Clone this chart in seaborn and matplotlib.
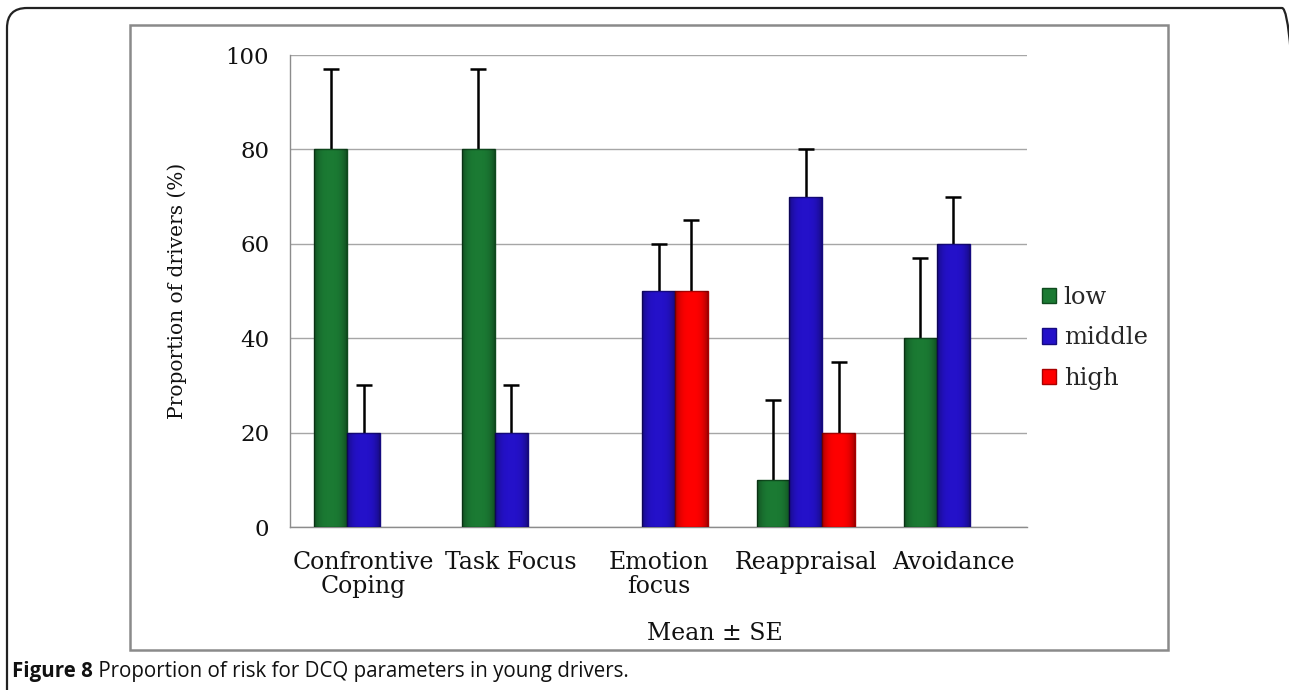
import matplotlib
matplotlib.use("Agg")
import matplotlib.pyplot as plt
import seaborn as sns
import pandas as pd
import numpy as np
from matplotlib.patches import FancyBboxPatch, Rectangle, Patch
from matplotlib.transforms import IdentityTransform

# ---------------- data ----------------
categories = ["Confrontive\nCoping", "Task Focus", "Emotion\nfocus", "Reappraisal", "Avoidance"]
levels = ["low", "middle", "high"]
low = [80, 80, None, 10, 40]
middle = [20, 20, 50, 70, 60]
high = [None, None, 50, 20, None]
low_se = [17, 17, None, 17, 17]
middle_se = [10, 10, 10, 10, 10]
high_se = [None, None, 15, 15, None]
yticks = [0, 20, 40, 60, 80, 100]
ylabel = "Proportion of drivers (%)"
xlabel = "Mean \u00b1 SE"
caption_bold = "Figure 8"
caption_rest = " Proportion of risk for DCQ parameters in young drivers."

colors = {"low": "#1b7a33", "middle": "#2411c9", "high": "#fe0000"}
edges = {"low": "#0f4a1e", "middle": "#150a80", "high": "#a80000"}

rows = []
for lvl, vals, ses in zip(levels, [low, middle, high], [low_se, middle_se, high_se]):
    for c, v, s in zip(categories, vals, ses):
        if v is not None:
            rows.append({"category": c, "risk": lvl, "value": v, "se": s})
df = pd.DataFrame(rows)
se_lookup = {(r.category, r.risk): r.se for r in df.itertuples()}

# ---------------- figure ----------------
sns.set_theme(style="white")
plt.rcParams["font.family"] = ["DejaVu Serif"]

W, H = 1289, 690
fig = plt.figure(figsize=(W / 100, H / 100), dpi=100)


def fx(px):
    return px / W


def fy(py):
    return 1 - py / H


ax = fig.add_axes([fx(290), fy(527), fx(1027) - fx(290), fy(55) - fy(527)])
sns.barplot(data=df, x="category", y="value", hue="risk", order=categories,
            hue_order=levels, palette=colors, width=0.67, errorbar=None,
            saturation=1, ax=ax, legend=False, zorder=3)

# subtle shading for a bevelled look (darker at the bar sides)
shade = np.abs(np.linspace(-1, 1, 64)) ** 3
shade = shade[np.newaxis, :]
shade_cmap = matplotlib.colors.LinearSegmentedColormap.from_list(
    "shade", [(0, 0, 0, 0), (0, 0, 0, 0.35)])

for cont, lvl in zip(ax.containers, levels):
    for bar in cont:
        bar.set_edgecolor(edges[lvl])
        bar.set_linewidth(1.0)
        h = bar.get_height()
        if h != h or h == 0:
            continue
        x0 = bar.get_x()
        x1 = x0 + bar.get_width()
        im = ax.imshow(shade, cmap=shade_cmap, vmin=0, vmax=1, aspect="auto",
                       extent=(x0, x1, 0, h), zorder=3.5, interpolation="bilinear")
        im.set_clip_path(bar)
        xc = (x0 + x1) / 2
        cat = categories[int(round(xc))]
        se = se_lookup.get((cat, lvl))
        if se is None:
            continue
        ax.plot([xc, xc], [h, h + se], color="black", linewidth=1.8,
                solid_capstyle="butt", zorder=2)
        ax.plot([xc], [h + se], marker="_", markersize=11, markeredgewidth=1.8,
                color="black", zorder=2)

ax.set_ylim(0, 100)
ax.set_xlim(-0.5, len(categories) - 0.5)
ax.set_aspect("auto")
ax.set_yticks(yticks)
ax.set_yticklabels([str(t) for t in yticks], fontsize=16.5, color="#111")
ax.yaxis.grid(True, color="#a6a6a6", linewidth=1.0, zorder=0)
ax.set_axisbelow(True)
for s in ["top", "right"]:
    ax.spines[s].set_visible(False)
for s in ["left", "bottom"]:
    ax.spines[s].set_color("#8c8c8c")
    ax.spines[s].set_linewidth(1.0)
ax.tick_params(axis="y", length=6, width=1, color="#8c8c8c", direction="out", pad=9)
ax.tick_params(axis="x", length=0, pad=17, labelsize=17, labelcolor="#111")
for lab in ax.get_xticklabels():
    lab.set_linespacing(1.05)
ax.set_xlabel("")
ax.set_ylabel(ylabel, fontsize=14.5, color="#111")
ax.yaxis.set_label_coords((187 - 290) / (1027 - 290), 0.5)

fig.text(fx(715), fy(633), xlabel, ha="center", va="center", fontsize=17, color="#111")

handles = [Patch(facecolor=colors[l], edgecolor=edges[l]) for l in levels]
fig.legend(handles, levels, loc="center left", bbox_to_anchor=(fx(1020), fy(338)),
           frameon=False, handlelength=0.6, handleheight=0.6, handletextpad=0.3,
           labelspacing=0.72, fontsize=17.5)

# chart area frame
fig.add_artist(Rectangle((fx(130), fy(650)), fx(1168) - fx(130), fy(25) - fy(650),
                         transform=fig.transFigure, fill=False, edgecolor="#8a8a8a",
                         linewidth=1.8))
# outer rounded frame (right side runs off the image, only the corner shows)
fig.add_artist(FancyBboxPatch((7, -30), 1302 - 7, (H - 8) + 30,
                              boxstyle="round,pad=0,rounding_size=20",
                              transform=IdentityTransform(), fill=False,
                              edgecolor="#222222", linewidth=1.6))

# caption
t1 = fig.text(fx(12), fy(672), caption_bold, ha="left", va="center", fontsize=14.8,
              fontweight="bold", family=["Open Sans", "DejaVu Sans"], color="#111")
renderer = fig.canvas.get_renderer()
bb = t1.get_window_extent(renderer)
fig.text(bb.x1 / W, fy(672), caption_rest, ha="left", va="center", fontsize=14.8,
         family=["Open Sans", "DejaVu Sans"], color="#111")

fig.savefig("out.png", dpi=100)
